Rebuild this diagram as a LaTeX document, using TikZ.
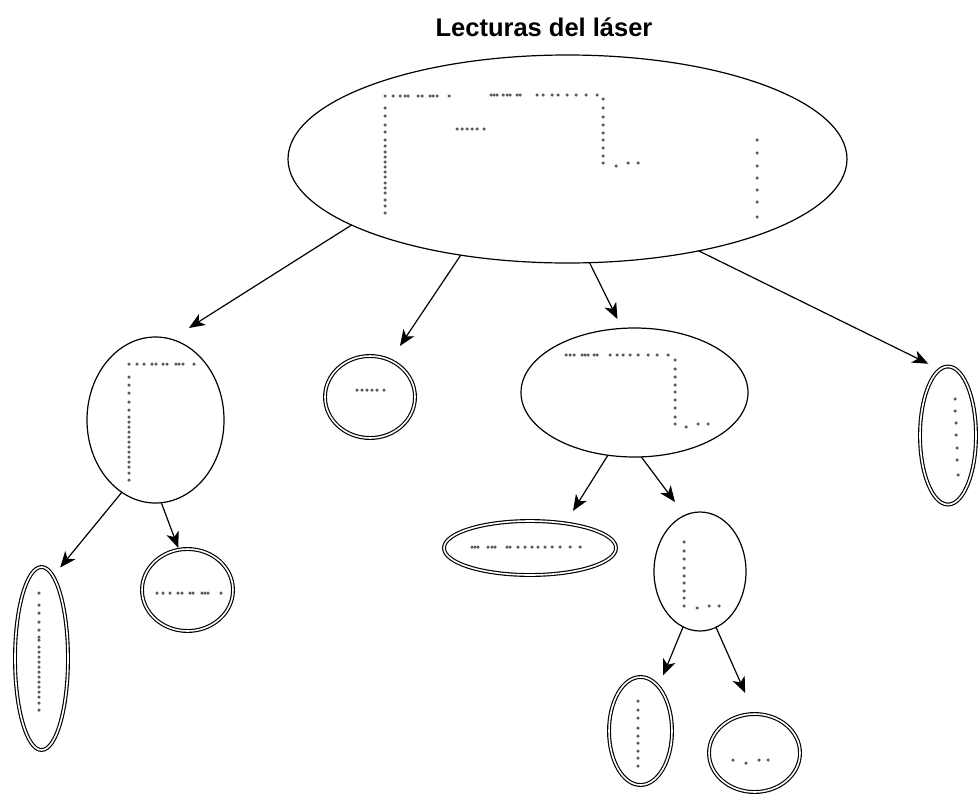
\documentclass[tikz,border=0pt]{standalone}
\usepackage{fontspec}
\setmainfont{Liberation Sans}
\usetikzlibrary{shapes.geometric,arrows.meta}
\definecolor{dotgray}{RGB}{90,90,90}
\tikzset{
  region/.style={draw=black, line width=1.2pt, ellipse, inner sep=0pt, outer sep=0pt},
  leaf/.style={region, line width=1.15pt, double=white, double distance=1.6pt},
  link/.style={draw=black, line width=1.2pt, -{Stealth[length=16pt,width=13pt,inset=4.5pt]}},
  scanpt/.style={fill=dotgray},
  heading/.style={font=\fontsize{25.5}{30}\selectfont\bfseries, inner sep=0pt, anchor=base},
}
\newcommand{\scanrow}[2]{\foreach \px in {#2} \fill[scanpt] (\px,#1) circle (1.75pt);}
\newcommand{\scancol}[2]{\foreach \py in {#2} \fill[scanpt] (#1,\py) circle (1.75pt);}
\begin{document}
\begin{tikzpicture}[x=1pt,y=-1pt]
\useasboundingbox (0,0) rectangle (979,795);

% title
\node[heading] (title) at (544,36) {Lecturas del láser};

% full scan
\node[region, minimum width=559pt, minimum height=208pt] (top) at (567.5,159) {};
% first split
\node[region, minimum width=137pt, minimum height=166pt] (lmid) at (155.5,420) {};
\node[leaf, minimum width=90pt, minimum height=82pt] (blob) at (370,397) {};
\node[region, minimum width=227pt, minimum height=129pt] (mid) at (634.5,392.5) {};
\node[leaf, minimum width=56pt, minimum height=138pt] (rcol) at (948,435.5) {};
% second split
\node[leaf, minimum width=53pt, minimum height=183pt] (tall) at (41.5,658.5) {};
\node[leaf, minimum width=91pt, minimum height=82pt] (round) at (187.5,590) {};
\node[leaf, minimum width=172pt, minimum height=54pt] (flat) at (530,548) {};
\node[region, minimum width=92pt, minimum height=119pt] (ell) at (700,571.5) {};
% third split
\node[leaf, minimum width=63pt, minimum height=108pt] (bl) at (640.5,731) {};
\node[leaf, minimum width=91pt, minimum height=78pt] (br) at (754.5,753) {};

% connectors
\draw[link, shorten >=21pt]   (top.197.6)  -- (lmid.79.2);
\draw[link, shorten >=17.4pt] (top.222.9)  -- (blob.61.4);
\draw[link, shorten >=10.4pt] (top.282.6)  -- (mid.101.5);
\draw[link, shorten >=12.9pt] (top.325.2)  -- (rcol.97.2);
\draw[link, shorten >=11.2pt] (lmid.245.9) -- (tall.82.3);
\draw[link, shorten >=2pt]    (lmid.274.5) -- (round.102.4);
\draw[link, shorten >=14.7pt] (mid.247.7)  -- (flat.35.2);
\draw[link, shorten >=16.5pt] (mid.276.6)  -- (ell.105.2);
\draw[link, shorten >=12.2pt] (ell.253.4)  -- (bl.68.6);
\draw[link, shorten >=23pt]   (ell.286.6)  -- (br.90.3);

% laser points: full scan
\scanrow{96}{385,393,400,405,408,418,422,430,433,437,449}
\scancol{385}{108,116,125,132,140,146,152,157,162,167,172,177,183,188,193,200,206,213}
\scanrow{129}{457,462,467,472,477,484}
\scanrow{95}{491,494,497,503,507,510,517,520,537,543,552,558,567,576,586,597}
\scancol{603}{99,108,117,125,133,140,148,156,163}
\fill[scanpt] (616,166) circle (1.75pt);
\scanrow{163}{628,638}
\scancol{757}{140,153,166,178,190,202,217}

% laser points: left corner
\scanrow{364}{129,137,144,152,156,163,167,176,179,183,194}
\scancol{129}{377,385,393,402,410,417,422,427,432,437,442,447,452,457,462,467,473,480}
% small segment
\scanrow{390}{357,362,367,372,377,384}
% right part
\scanrow{355}{566,570,574,582,585,588,594,597,610,617,623,630,638,648,657,668}
\scancol{675}{360,369,377,385,392,400,408,417,424}
\fill[scanpt] (686,427) circle (1.75pt);
\scanrow{424}{698,708}
% far right column
\foreach \px/\py in {955/399,955/411,956/423,956/435,957/448,957/460,958/475}
  \fill[scanpt] (\px,\py) circle (1.75pt);

% left column and top row
\scancol{39}{593,605,613,622,630,637,640,647,652,657,662,667,672,677,682,687,692,697,703,710}
\scanrow{593}{157,163,170,178,182,190,193,202,205,208,221}
% horizontal segment
\scanrow{547}{472,475,478,488,492,495,507,510,518,525,532,538,545,552,560,570,580}
% L corner
\scancol{684}{542,551,559,568,576,583,591,598,606}
\fill[scanpt] (697,608) circle (1.75pt);
\scanrow{606}{709,719}
% bottom pieces
\scancol{638}{701,710,718,728,736,743,751,758,766}
\scanrow{760}{733,759,768}
\fill[scanpt] (746,763) circle (1.75pt);
\end{tikzpicture}
\end{document}
